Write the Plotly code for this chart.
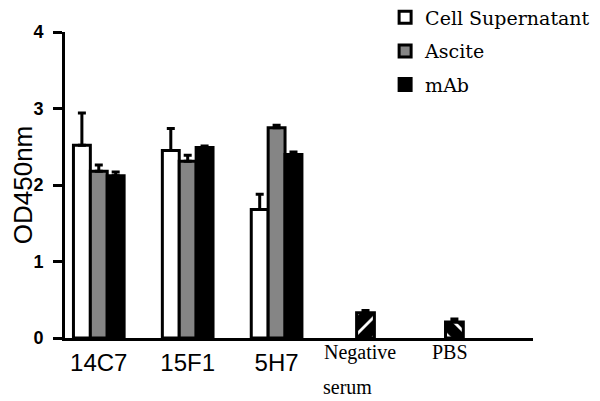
import plotly.graph_objects as go

categories = ["14C7", "15F1", "5H7", "Negative serum", "PBS"]
antibody_cats = ["14C7", "15F1", "5H7"]
control_cats = ["Negative serum", "PBS"]

cell_sup = [2.52, 2.45, 1.68]
cell_sup_err = [0.42, 0.29, 0.20]
ascite = [2.18, 2.31, 2.75]
ascite_err = [0.08, 0.08, 0.03]
mab = [2.12, 2.49, 2.40]
mab_err = [0.05, 0.02, 0.03]
control = [0.33, 0.21]
control_err = [0.03, 0.04]

y_ticks = [0, 1, 2, 3, 4]

BAR_W = 0.19
fig = go.Figure()

def add_series(name, y, err, fill, offset):
    fig.add_trace(go.Bar(
        name=name, x=antibody_cats, y=y, legendgroup=name,
        width=BAR_W, offset=offset,
        marker=dict(color=fill, line=dict(color="black", width=3)),
        error_y=dict(type="data", array=err, arrayminus=[0] * len(err),
                     symmetric=False, color="black", thickness=3, width=4),
    ))

add_series("Cell Supernatant", cell_sup, cell_sup_err, "white", -1.5 * BAR_W)
add_series("Ascite", ascite, ascite_err, "#858585", -0.5 * BAR_W)
add_series("mAb", mab, mab_err, "black", 0.5 * BAR_W)

fig.add_trace(go.Bar(
    name="Control", x=control_cats, y=control, showlegend=False,
    width=0.2, offset=-0.1,
    marker=dict(color="black", line=dict(color="black", width=3),
                pattern=dict(shape=["/", "\\"], fgcolor="white", bgcolor="black",
                             size=14, solidity=0.2, fillmode="replace")),
    error_y=dict(type="data", array=control_err, arrayminus=[0, 0],
                 symmetric=False, color="black", thickness=3, width=4),
))

# serif labels for the control categories
fig.add_annotation(x="Negative serum", y=0, xref="x", yref="paper", text="Negative",
                   showarrow=False, yanchor="top", yshift=-1, xshift=-6,
                   font=dict(family="Liberation Serif", size=20, color="black"))
fig.add_annotation(x="Negative serum", y=0, xref="x", yref="paper", text="serum",
                   showarrow=False, yanchor="top", yshift=-36, xshift=-18,
                   font=dict(family="Liberation Serif", size=20, color="black"))
fig.add_annotation(x="PBS", y=0, xref="x", yref="paper", text="PBS",
                   showarrow=False, yanchor="top", yshift=-1, xshift=-4,
                   font=dict(family="Liberation Serif", size=20, color="black"))

# the page body adds an 8px offset, so the figure is 8px smaller than the window
fig.update_layout(
    width=592, height=393,
    margin=dict(l=57, r=67, t=24, b=62.5, autoexpand=False),
    paper_bgcolor="white", plot_bgcolor="white",
    barmode="overlay",
    showlegend=True,
    legend=dict(x=0.684, y=1.11, xanchor="left", yanchor="top",
                font=dict(family="DejaVu Serif", size=19, color="black"),
                bgcolor="rgba(0,0,0,0)", itemwidth=30, tracegroupgap=6),
    xaxis=dict(type="category", categoryorder="array", categoryarray=categories,
               range=[-0.38, 4.884], showline=True, linecolor="black", linewidth=3,
               ticks="", tickvals=antibody_cats, ticktext=antibody_cats,
               tickfont=dict(family="Liberation Sans", size=24, color="black"),
               ticklabelstandoff=1, showgrid=False, zeroline=False, automargin=False),
    yaxis=dict(range=[0, 4], tickvals=y_ticks, showline=True, linecolor="black",
               linewidth=3, ticks="outside", ticklen=9, tickwidth=3, tickcolor="black",
               tickfont=dict(family="Liberation Sans", size=18, color="black", weight="bold"),
               ticklabelstandoff=6, showgrid=False, zeroline=False, automargin=False,
               title=dict(text="OD450nm", standoff=20,
                          font=dict(family="Liberation Sans", size=26, color="black"))),
)

fig.write_html("out.html")
